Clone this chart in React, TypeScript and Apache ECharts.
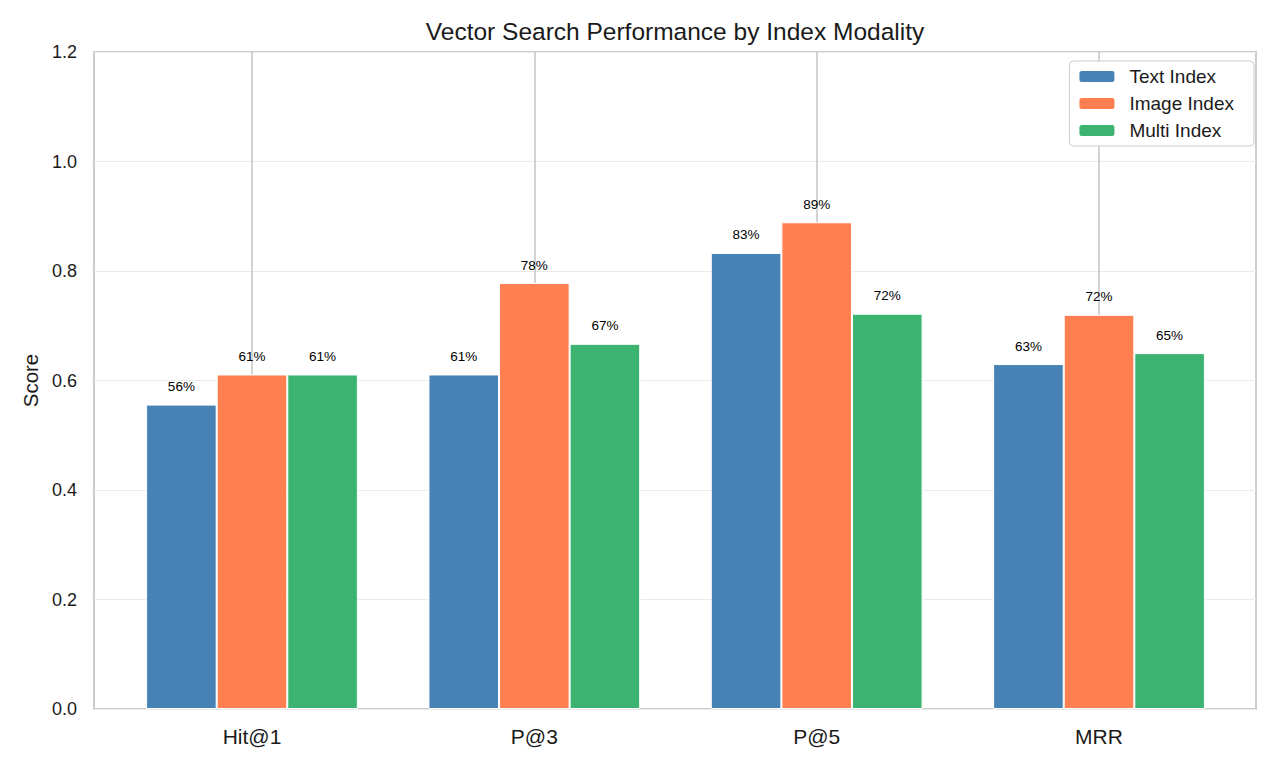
import React, { useEffect, useRef } from 'react';
import * as echarts from 'echarts';

const categories = ['Hit@1', 'P@3', 'P@5', 'MRR'];
const seriesNames = ['Text Index', 'Image Index', 'Multi Index'];
const textIndex = [0.556, 0.611, 0.833, 0.63];
const imageIndex = [0.611, 0.778, 0.889, 0.72];
const multiIndex = [0.611, 0.667, 0.722, 0.65];
const colors = ['#4682B4', '#FF7F50', '#3CB371'];

const FONT = '"Liberation Sans", Arial, sans-serif';

const App: React.FC = () => {
  const chartRef = useRef<HTMLDivElement>(null);

  useEffect(() => {
    const chart = echarts.init(chartRef.current!, undefined, { renderer: 'svg' });

    const values = [textIndex, imageIndex, multiIndex];

    const option = {
      animation: false,
      backgroundColor: '#ffffff',
      textStyle: { fontFamily: FONT },
      title: {
        text: 'Vector Search Performance by Index Modality',
        left: 675,
        textAlign: 'center',
        top: 19,
        padding: 0,
        textStyle: { fontFamily: FONT, fontSize: 24.5, fontWeight: 'normal', color: '#1a1a1a' }
      },
      legend: {
        data: seriesNames,
        orient: 'vertical',
        right: 26,
        top: 61,
        itemWidth: 37,
        itemHeight: 13,
        itemGap: 8,
        padding: [6, 20, 6, 8],
        borderColor: '#cccccc',
        borderWidth: 1,
        borderRadius: 4,
        backgroundColor: '#ffffff',
        textStyle: { fontFamily: FONT, fontSize: 19, color: '#1a1a1a', padding: [0, 0, 0, 9] }
      },
      grid: [
        // bar grid
        { left: 110.8, right: 39.8, top: 52, bottom: 59 },
        // frame grid with y axis
        { left: 94, right: 24, top: 52, bottom: 59, show: true, borderColor: '#cccccc', borderWidth: 2 },
        // vertical lines at category centers
        { left: 252, right: 181, top: 52, bottom: 59 }
      ],
      xAxis: [
        {
          type: 'category',
          gridIndex: 0,
          data: categories,
          axisLine: { show: false },
          axisTick: { show: false },
          splitLine: { show: false },
          axisLabel: { fontFamily: FONT, fontSize: 21, color: '#1a1a1a', margin: 17 }
        },
        { type: 'value', gridIndex: 1, show: false, min: 0, max: 1 },
        {
          type: 'value',
          gridIndex: 2,
          min: 0,
          max: 3,
          interval: 1,
          axisLine: { show: false },
          axisTick: { show: false },
          axisLabel: { show: false },
          splitLine: { show: true, lineStyle: { color: '#c4c4c4', width: 1.5 } }
        }
      ],
      yAxis: [
        { type: 'value', gridIndex: 0, min: 0, max: 1.2, show: false, splitLine: { show: false } },
        {
          type: 'value',
          gridIndex: 1,
          min: 0,
          max: 1.2,
          interval: 0.2,
          name: 'Score',
          nameLocation: 'middle',
          nameGap: 52,
          nameTextStyle: { fontFamily: FONT, fontSize: 20.5, color: '#1a1a1a' },
          axisLine: { show: false },
          axisTick: { show: false },
          axisLabel: {
            fontFamily: FONT,
            fontSize: 18,
            color: '#1a1a1a',
            margin: 17,
            formatter: (v: number) => v.toFixed(1)
          },
          splitLine: { show: true, lineStyle: { color: '#ebebeb', width: 1 } }
        },
        { type: 'value', gridIndex: 2, min: 0, max: 1, show: false, splitLine: { show: false } }
      ],
      series: seriesNames.map((name, i) => ({
        name,
        type: 'bar',
        xAxisIndex: 0,
        yAxisIndex: 0,
        data: values[i],
        barWidth: '25%',
        barGap: '0%',
        z: 3,
        itemStyle: { color: colors[i], borderColor: '#ffffff', borderWidth: 1 },
        label: {
          show: true,
          position: 'top',
          distance: 11,
          fontFamily: FONT,
          fontSize: 13.5,
          color: '#000000',
          formatter: (p: any) => `${Math.round(p.value * 100)}%`
        }
      }))
    };

    chart.setOption(option);

    const handleResize = () => chart.resize();
    window.addEventListener('resize', handleResize);

    return () => {
      chart.dispose();
      window.removeEventListener('resize', handleResize);
    };
  }, []);

  return (
    <div
      ref={chartRef}
      style={{ position: 'absolute', left: 0, top: 0, width: '1280px', height: '768px' }}
    />
  );
};

export default App;
